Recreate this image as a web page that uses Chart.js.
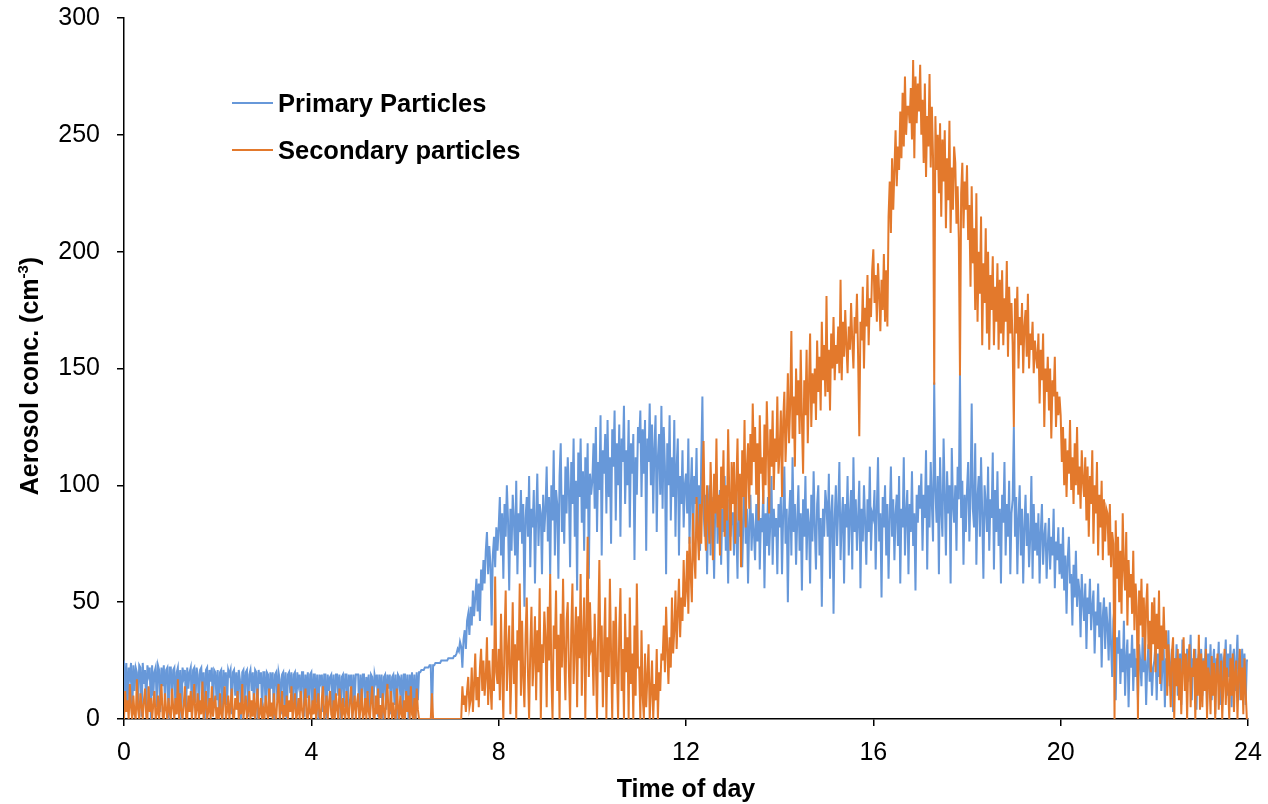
<!DOCTYPE html>
<html><head><meta charset="utf-8">
<script src="https://cdn.jsdelivr.net/npm/chart.js@4.4.0/dist/chart.umd.min.js"></script>
<style>html,body{margin:0;padding:0;background:#fff;}canvas{display:block}</style>
</head><body>
<canvas id="c" width="1268" height="804"></canvas>
<script>
const seriesNames = ['Primary Particles', 'Secondary particles'];
const xTitle = 'Time of day';
const yTitleMain = 'Aerosol conc. (cm';
const yTitleSup = '-3';
const yTitleEnd = ')';
const xTickValues = [0, 4, 8, 12, 16, 20, 24];
const yTickValues = [0, 50, 100, 150, 200, 250, 300];
const stepHours = 0.025;

const primary = [
25,8,24,3,22,18,24,2,23,12, 22,20,6,23,22,1,24,15,21,4, 23,19,22,0,23,10,20,22,5,23, 21,3,22,14,23,7,21,22,0,22,
22,6,21,22,2,20,22,9,21,0, 22,18,21,4,22,13,20,22,1,21, 22,7,22,19,3,21,22,11,20,0, 21,22,5,21,16,22,2,21,20,8,
21,3,20,21,0,21,14,20,6,21, 19,21,2,20,21,10,20,4,21,17, 0,20,21,7,20,21,1,19,21,12, 20,5,21,20,0,21,15,20,3,20,
20,4,20,19,1,20,13,20,0,19, 20,8,20,17,2,19,20,6,20,0, 19,20,11,20,3,19,20,0,20,15, 19,5,20,20,1,19,9,20,2,19,
20,2,19,19,7,19,0,19,16,19, 3,19,19,0,19,12,18,19,4,19, 1,19,19,10,19,0,18,19,5,19, 19,2,19,14,19,0,19,8,19,19,
19,0,19,7,19,19,3,18,11,19, 0,19,18,5,19,16,19,1,19,9, 19,0,18,19,4,19,13,19,2,18, 19,6,19,0,19,18,10,19,1,19,
19,4,19,0,19,12,20,2,19,0, 20,8,20,20,21,21,21,22,22,22, 22,23,23,0,23,23,24,24,24,24, 24,25,25,25,25,25,25,26,26,26,
26,26,27,27,28,30,29,33,31,22, 34,38,30,42,45,36,48,40,55,44, 52,60,46,58,42,64,55,68,58,72, 80,62,74,66,40,70,78,65,82,72,
82,95,70,88,60,92,78,100,85,55, 90,72,96,85,70,102,62,88,80,98, 75,92,48,86,95,78,104,65,90,82, 98,58,86,105,74,92,88,62,96,80,
90,108,76,95,62,100,85,115,70,98, 92,60,104,118,80,96,75,108,88,112, 98,65,110,92,120,78,102,55,114,95, 120,84,106,72,112,90,118,60,105,96,
102,118,90,125,80,110,98,130,70,115, 105,122,88,128,95,112,75,124,108,132, 85,118,100,126,78,120,110,134,92,115, 100,128,82,118,105,122,68,112,96,125,
118,132,95,124,105,128,72,120,110,135, 100,126,88,116,130,80,112,122,96,134, 90,125,108,62,118,100,130,85,112,95, 128,78,108,120,70,104,92,115,82,100,
105,88,120,75,98,112,68,104,92,116, 80,100,72,110,138,90,78,96,62,88, 100,70,95,84,60,92,105,75,88,98, 66,90,80,104,72,86,58,94,78,88,
88,70,95,82,60,100,78,92,65,85, 108,75,90,58,84,96,72,88,80,68, 92,76,102,64,86,80,98,56,88,74, 95,70,84,104,66,90,78,86,62,92,
82,95,62,88,108,75,90,50,86,98, 70,112,80,92,66,85,100,72,88,55, 94,78,104,68,90,84,58,96,76,106, 82,64,92,100,70,86,48,90,78,98,
92,78,105,60,88,96,45,86,100,74, 90,110,68,85,95,58,92,82,104,70, 88,98,64,112,80,94,72,86,102,56, 90,76,100,84,66,94,80,108,72,88,
86,98,64,90,112,76,88,52,95,82, 100,70,92,60,86,108,78,94,68,88, 96,74,104,58,90,82,112,70,88,98, 62,92,80,106,74,88,55,96,84,100,
90,105,72,96,86,115,64,100,82,110, 92,76,144,98,84,104,62,112,90,78, 120,96,70,106,88,100,58,116,92,84, 100,72,108,94,148,86,102,66,96,80,
98,110,76,96,135,90,82,118,66,95, 104,78,112,88,60,100,92,80,108,72, 94,86,114,64,98,80,106,74,90,58, 96,84,110,70,92,78,102,62,88,94,
125,78,95,62,86,100,70,90,58,82, 96,74,88,65,78,104,60,92,72,84, 70,88,58,80,92,66,78,84,60,74, 86,64,78,70,90,56,76,68,82,62,
75,60,82,55,70,45,68,78,58,62, 40,66,52,72,48,60,55,35,62,50, 42,58,30,52,45,60,38,48,55,28, 46,40,58,35,50,22,44,52,30,48,
40,25,50,32,18,42,48,8,35,28, 38,15,30,20,42,10,26,34,5,28, 22,36,12,30,18,26,8,32,24,14, 35,20,28,6,24,32,16,26,10,22,
25,32,8,28,18,35,12,24,30,5, 26,20,38,14,22,30,3,26,18,32, 10,24,28,6,34,20,26,12,30,16, 22,36,8,26,18,30,4,24,28,14,
30,10,26,22,35,4,28,18,32,8, 24,30,2,26,20,33,6,28,15,25, 22,34,10,28,18,32,5,26,30,12, 24,36,8,26,20,30,14,28,6,25,
25
];

const secondary = [
0,12,3,8,0,15,5,0,10,2, 0,17,4,0,11,6,0,8,13,1, 0,14,3,9,0,6,12,0,2,10, 0,7,15,1,0,11,4,0,9,3,
0,13,5,0,9,2,17,0,11,4, 0,6,14,1,0,10,3,12,0,7, 15,0,4,11,0,8,2,16,0,5, 12,0,3,9,0,14,1,6,10,0,
5,0,11,2,0,8,14,0,3,10, 0,6,13,1,0,9,4,12,0,7, 2,15,0,5,10,0,3,12,0,8, 1,11,0,6,13,0,2,9,0,4,
0,10,3,0,13,1,7,0,11,2, 0,9,15,0,4,12,0,6,1,10, 0,8,3,14,0,5,11,0,2,9, 0,12,4,0,7,13,1,0,10,3,
0,8,2,13,0,5,11,1,0,9, 14,0,3,10,0,7,12,2,0,8, 0,11,4,0,13,6,0,9,2,0, 12,3,0,8,14,0,5,10,0,7,
11,0,4,13,0,2,9,0,12,3, 0,8,14,1,0,10,2,13,0,6, 0,11,3,0,9,15,0,4,12,0, 7,1,0,13,5,0,10,2,0,8,
0,12,3,10,0,14,2,0,9,0, 13,4,0,0,0,0,0,0,0,0, 0,0,0,11,0,0,0,0,0,0, 0,0,0,0,0,0,0,0,0,0,
0,0,0,0,0,0,0,0,0,14, 6,10,3,12,18,5,8,22,3,15, 28,8,18,5,22,30,12,25,10,18, 35,6,25,14,4,30,12,61,20,15,
30,8,45,20,0,35,55,12,28,40, 2,22,50,15,32,0,38,25,58,10, 42,18,5,36,52,20,0,30,48,14, 26,44,8,38,20,56,0,32,24,46,
35,5,48,25,62,18,0,40,30,55, 12,36,0,45,22,60,28,8,42,50, 20,0,38,58,15,32,48,5,44,26, 62,10,35,52,0,40,78,18,50,30,
32,10,45,25,0,38,68,20,40,5, 30,52,0,35,18,60,28,0,42,15, 48,22,0,38,56,12,30,0,45,20, 35,0,52,15,28,0,40,10,58,22,
22,0,38,10,0,28,5,18,32,0, 12,25,0,15,8,30,0,20,12,28, 25,40,20,48,30,15,35,22,52,28, 38,55,30,45,60,35,52,42,68,48,
55,72,45,78,62,50,88,70,60,95, 80,68,92,75,100,119,85,72,100,88, 75,110,92,68,105,88,120,82,96,70, 108,90,115,78,100,85,124,95,72,110,
92,110,75,100,120,85,105,65,115,95, 128,82,108,118,90,122,100,135,110,125, 96,118,85,130,105,112,92,126,100,136, 115,88,124,108,132,98,120,110,138,105,
115,132,95,128,140,110,125,148,118,135, 166,120,138,108,150,130,145,122,158,128, 105,145,130,158,118,142,165,125,148,135, 150,128,162,140,155,132,170,145,160,138,
181,140,158,132,165,150,172,145,160,152, 168,148,188,145,170,155,175,160,148,168, 158,178,162,150,172,165,182,155,121,170, 162,185,150,176,168,190,160,180,172,192,
201,178,190,170,195,182,166,188,175,199, 170,192,168,215,230,208,240,218,235,252, 228,245,235,260,240,268,245,275,250,262, 262,255,270,248,282,240,275,255,272,260,
280,250,265,238,272,232,258,245,276,236, 262,240,143,258,235,250,225,255,215,248, 230,252,210,240,222,256,208,236,218,245, 238,212,228,206,147,225,238,210,230,218,
237,205,220,185,228,195,210,175,225,170, 200,182,215,160,195,178,210,165,200,158, 190,175,198,160,185,170,195,158,188,165, 192,160,180,170,196,155,185,165,178,160,
125,180,165,185,150,172,160,178,148,168, 175,155,182,150,165,158,170,148,162,155, 150,165,135,158,145,165,125,150,140,155, 132,150,120,145,138,155,125,140,130,138,
130,110,125,100,120,95,115,105,128,98, 112,92,118,100,125,96,108,90,115,102, 95,112,85,108,78,104,92,115,75,100, 88,110,70,96,82,102,68,94,76,90,
88,70,92,65,80,75,0,85,60,78, 50,72,45,88,65,55,80,40,68,52, 62,45,72,38,58,48,0,55,40,60, 35,52,25,48,58,30,42,20,50,32,
52,20,45,30,55,15,40,25,48,30, 38,10,32,22,5,28,35,0,26,14, 30,8,26,2,20,35,12,28,0,24, 32,5,22,18,30,0,26,10,36,4,
28,5,25,12,30,0,22,18,2,27, 10,24,0,20,28,4,18,25,0,15, 30,6,22,14,0,26,10,28,3,20, 25,0,18,30,8,22,2,26,12,0,
0
];

const colors = ['#6798d9', '#e3792c'];
const hours = primary.map((_, i) => Math.round(i * stepHours * 1000) / 1000);
const toPoints = arr => arr.map((v, i) => ({ x: hours[i], y: v }));

const FONT = '"Liberation Sans", Arial, Helvetica, sans-serif';

const overlay = {
  id: 'overlay',
  afterDraw(chart) {
    const ctx = chart.ctx;
    const a = chart.chartArea;
    ctx.save();
    ctx.fillStyle = '#000';
    ctx.font = 'bold 25px ' + FONT;
    ctx.textAlign = 'center';
    ctx.textBaseline = 'alphabetic';
    ctx.fillText(xTitle, (a.left + a.right) / 2, 797);
    ctx.save();
    ctx.translate(38, 376);
    ctx.rotate(-Math.PI / 2);
    ctx.textAlign = 'left';
    const fMain = 'bold 25px ' + FONT;
    const fSup = 'bold 15px ' + FONT;
    ctx.font = fMain;
    const w1 = ctx.measureText(yTitleMain).width;
    const w3 = ctx.measureText(yTitleEnd).width;
    ctx.font = fSup;
    const w2 = ctx.measureText(yTitleSup).width;
    const x0 = -(w1 + w2 + w3) / 2;
    ctx.font = fMain;
    ctx.fillText(yTitleMain, x0, 0);
    ctx.font = fSup;
    ctx.fillText(yTitleSup, x0 + w1, -10);
    ctx.font = fMain;
    ctx.fillText(yTitleEnd, x0 + w1 + w2, 0);
    ctx.restore();
    const legY = [103, 150];
    ctx.font = 'bold 25.5px ' + FONT;
    ctx.textAlign = 'left';
    for (let i = 0; i < 2; i++) {
      ctx.strokeStyle = colors[i];
      ctx.lineWidth = 2;
      ctx.beginPath();
      ctx.moveTo(232, legY[i]);
      ctx.lineTo(273, legY[i]);
      ctx.stroke();
      ctx.fillStyle = '#000';
      ctx.fillText(seriesNames[i], 278, legY[i] + 9);
    }
    ctx.restore();
  }
};

new Chart(document.getElementById('c'), {
  type: 'line',
  data: {
    datasets: [
      { label: seriesNames[0], data: toPoints(primary), borderColor: colors[0], borderWidth: 2, pointRadius: 0, tension: 0, order: 1 },
      { label: seriesNames[1], data: toPoints(secondary), borderColor: colors[1], borderWidth: 2, pointRadius: 0, tension: 0, order: 0 }
    ]
  },
  options: {
    responsive: false,
    animation: false,
    devicePixelRatio: 1,
    layout: { padding: { top: 18, right: 20, left: 0, bottom: 0 } },
    plugins: { legend: { display: false }, tooltip: { enabled: false } },
    scales: {
      x: {
        type: 'linear', min: 0, max: 24,
        afterBuildTicks: s => { s.ticks = xTickValues.map(v => ({ value: v })); },
        afterFit: s => { s.height = 85; s.paddingLeft = 0; s.paddingRight = 0; },
        grid: { drawOnChartArea: false, drawTicks: true, tickLength: 7, color: '#000', lineWidth: 1.5 },
        border: { display: true, color: '#000', width: 1.5 },
        ticks: { color: '#000', font: { size: 25, family: FONT }, padding: 12, maxRotation: 0 }
      },
      y: {
        min: 0, max: 300,
        afterBuildTicks: s => { s.ticks = yTickValues.map(v => ({ value: v })); },
        afterFit: s => { s.width = 124; s.paddingTop = 0; s.paddingBottom = 0; },
        grid: { drawOnChartArea: false, drawTicks: true, tickLength: 7, color: '#000', lineWidth: 1.5 },
        border: { display: true, color: '#000', width: 1.5 },
        ticks: { color: '#000', font: { size: 25, family: FONT }, padding: 17 }
      }
    }
  },
  plugins: [overlay]
});
</script>
</body></html>
